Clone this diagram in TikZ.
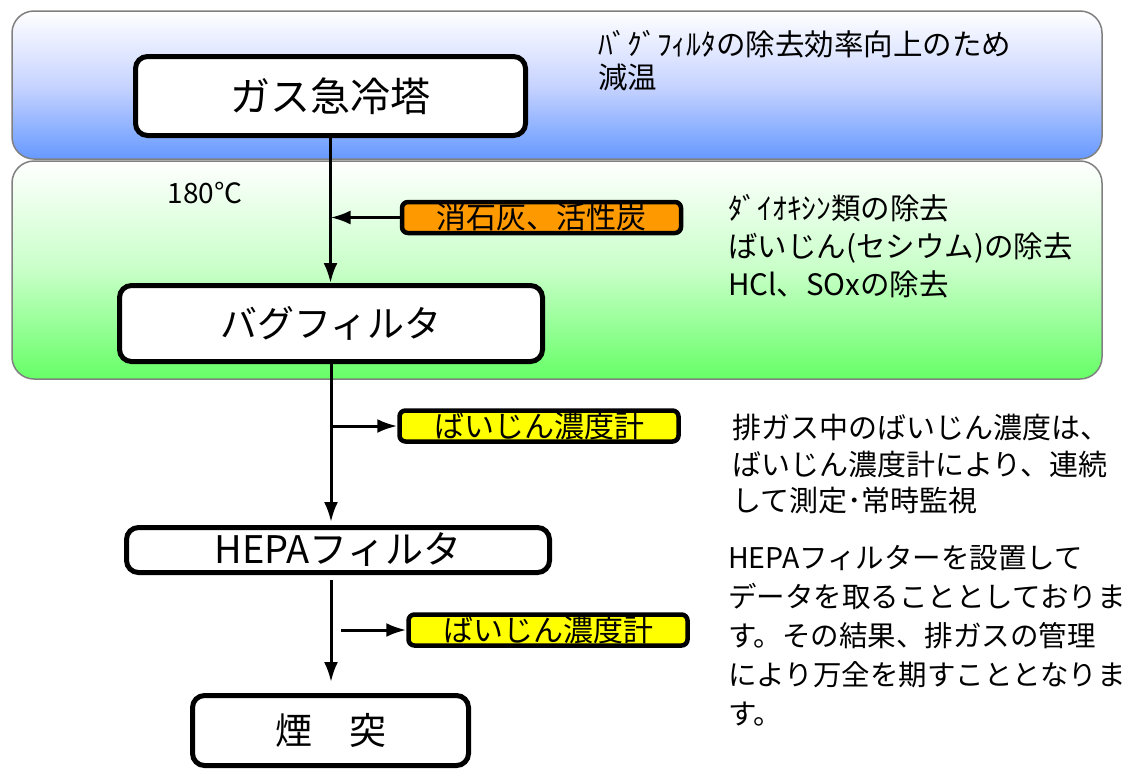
\documentclass[tikz,border=0pt]{standalone}
\usepackage{fontspec}
\setmainfont{Noto Sans CJK JP}
\usetikzlibrary{arrows.meta}
\definecolor{bandblue}{RGB}{102,153,255}
\definecolor{bandpale}{RGB}{200,212,255}
\definecolor{bandgreen}{RGB}{102,255,102}
\definecolor{greenpale}{RGB}{200,255,200}
\definecolor{limeorange}{RGB}{255,153,0}
\definecolor{meteryellow}{RGB}{255,255,0}
\tikzset{
  band/.style={draw=gray, line width=1.5pt, rounded corners=22pt},
  stage/.style={draw, line width=5pt, rounded corners=12pt, fill=white, inner sep=0pt, font=\fontsize{37}{42}\selectfont},
  tag/.style={draw, line width=4.5pt, rounded corners=6pt, inner sep=0pt, minimum width=279pt, minimum height=31pt, font=\fontsize{30}{34}\selectfont},
  note/.style={anchor=north west, align=left, inner sep=0pt, font=\fontsize{29.5}{38}\selectfont},
  flow/.style={line width=3pt, -{Latex[length=20pt,width=14pt]}}
}
\begin{document}
\begin{tikzpicture}[x=1pt, y=-1pt]
    \useasboundingbox (0,0) rectangle (1124,771);

    % bands
    \draw[band, top color=white, bottom color=bandblue, middle color=bandpale] (12,11) rectangle (1102,159);
    \draw[band, top color=white, bottom color=bandgreen, middle color=greenpale] (12,161) rectangle (1102,379);

    % process line
    \node[stage, minimum width=390pt, minimum height=79pt, font=\fontsize{40}{44}\selectfont] (quench) at (330.5,96) {ガス急冷塔};
    \node[stage, minimum width=423pt, minimum height=76pt] (bag) at (331,323.5) {バグフィルタ};
    \node[stage, minimum width=423pt, minimum height=45pt, font=\fontsize{38}{42}\selectfont] (hepa) at (338,550) {HEPAフィルタ};
    \node[stage, minimum width=276pt, minimum height=70pt] (stack) at (330.5,730.5) {煙　突};

    \node[tag, fill=limeorange] (lime) at (541.5,217.5) {消石灰、活性炭};
    \node[tag, fill=meteryellow] (meter1) at (539,426) {ばいじん濃度計};
    \node[tag, fill=meteryellow] (meter2) at (548,630) {ばいじん濃度計};

    \node[font=\fontsize{28}{32}\selectfont] (temp) at (205,193) {180℃};

    % notes
    \node[note, font=\fontsize{29.5}{33}\selectfont] (cool) at (598,30) {ﾊﾞｸﾞﾌｨﾙﾀの除去効率向上のため\\減温};
    \node[note] (remove) at (728,194) {ﾀﾞｲｵｷｼﾝ類の除去\\ばいじん(セシウム)の除去\\HCl、SOxの除去};
    \node[note, font=\fontsize{29}{36.5}\selectfont] (monitor) at (732,414) {排ガス中のばいじん濃度は、\\ばいじん濃度計により、連続\\して測定･常時監視};
    \node[note, font=\fontsize{28.5}{39}\selectfont] (hepanote) at (728,545) {HEPAフィルターを設置して\\データを取ることとしておりま\\す。その結果、排ガスの管理\\により万全を期すこととなりま\\す。};

    % connectors
    \draw[flow] (quench.south) -- (quench.south |- bag.north);
    \draw[flow] (lime.west) -- (lime.west -| quench.south);
    \draw[flow, shorten >=3pt] (bag.south) -- (bag.south |- hepa.north);
    \draw[flow] (bag.south |- meter1.west) -- (meter1.west);
    \draw[flow, shorten <=5pt, shorten >=11pt] (bag.south |- hepa.south) -- (bag.south |- stack.north);
    \coordinate (tap) at (341,630);
    \draw[flow] (tap) -- (meter2.west);

\end{tikzpicture}
\end{document}
